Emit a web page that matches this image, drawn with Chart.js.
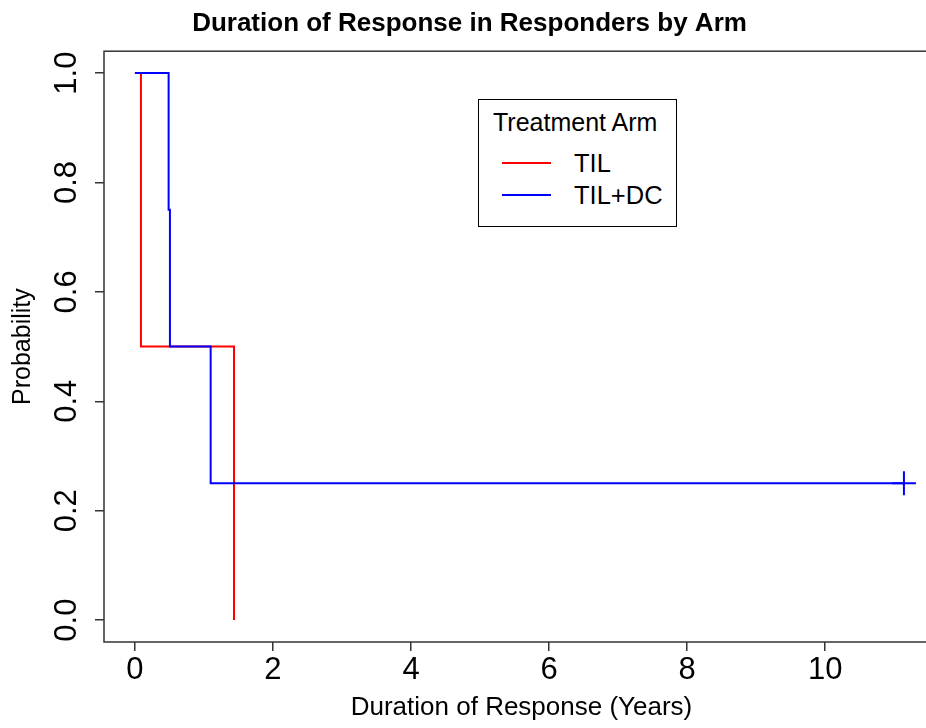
<!DOCTYPE html>
<html>
<head>
<meta charset="utf-8">
<script src="https://cdn.jsdelivr.net/npm/chart.js@4.4.1/dist/chart.umd.min.js"></script>
<style>
  html, body { margin: 0; padding: 0; overflow: hidden; background: #fff; }
  #wrap { position: relative; width: 1044px; height: 728px; }
  #legend {
    position: absolute; left: 478px; top: 99px; width: 197px; height: 126px;
    border: 1px solid #000; background: #fff;
    font-family: 'Liberation Sans', Arial, sans-serif; color: #000;
  }
  #legend .ttl { position: absolute; left: 14px; top: 7px; font-size: 25px; line-height: 30px; white-space: nowrap; }
  #legend .swatch { position: absolute; left: 23px; width: 49px; height: 2px; }
  #legend .lbl { position: absolute; left: 95px; font-size: 25.5px; line-height: 30px; white-space: nowrap; }
</style>
</head>
<body>
<div id="wrap">
  <canvas id="myChart"></canvas>
  <div id="legend"></div>
</div>
<script>
// Kaplan-Meier steps (years, probability)
const tilTimes = [0, 0.087, 1.435];
const tilSurv = [1, 0.5, 0];
const dcTimes = [0, 0.488, 0.507, 1.097, 11.14];
const dcSurv = [1, 0.75, 0.5, 0.25, 0.25];
const censorTimes = [11.14];
const censorSurv = [0.25];
const armLabels = ['TIL', 'TIL+DC'];
const armColors = ['#ff0000', '#0000ff'];
const xTickValues = [0, 2, 4, 6, 8, 10];
const yTickValues = [0, 0.2, 0.4, 0.6, 0.8, 1.0];

function toPoints(xs, ys) {
    return xs.map((x, i) => ({x: x, y: ys[i]}));
}

Chart.defaults.font.family = "'Liberation Sans', Arial, sans-serif";
Chart.defaults.color = '#000';

const boxPlugin = {
    id: 'box',
    beforeDatasetsDraw(chart) {
        const a = chart.chartArea;
        const ctx = chart.ctx;
        ctx.save();
        ctx.strokeStyle = '#333';
        ctx.lineWidth = 1.5;
        ctx.strokeRect(a.left, a.top, a.right - a.left, a.bottom - a.top);
        ctx.restore();
    }
};

const data = {
    datasets: [{
        label: armLabels[0],
        data: toPoints(tilTimes, tilSurv),
        borderColor: armColors[0],
        borderWidth: 2,
        pointRadius: 0,
        stepped: 'before',
        order: 2
    },
    {
        label: armLabels[1],
        data: toPoints(dcTimes, dcSurv),
        borderColor: armColors[1],
        borderWidth: 2,
        pointRadius: 0,
        stepped: 'before',
        order: 1
    },
    {
        label: 'censored',
        data: toPoints(censorTimes, censorSurv),
        showLine: false,
        borderColor: armColors[1],
        borderWidth: 2,
        pointStyle: 'cross',
        pointRadius: 12,
        order: 0
    }]
};

const config = {
    type: 'line',
    data: data,
    plugins: [boxPlugin],
    options: {
        responsive: true,
        maintainAspectRatio: false,
        animation: false,
        layout: { padding: { left: 0, right: 105, top: 0, bottom: 0 } },
        scales: {
            x: {
                type: 'linear',
                bounds: 'data',
                min: -0.448,
                max: 11.648,
                grid: { drawOnChartArea: false, tickLength: 9, color: '#333', lineWidth: 1.5 },
                border: { display: false },
                ticks: { padding: 1, font: { size: 31 }, maxRotation: 0 },
                afterBuildTicks: (scale) => { scale.ticks = xTickValues.map(v => ({value: v})); },
                title: { display: true, text: 'Duration of Response (Years)', font: { size: 26 }, padding: { top: 0, bottom: 5 } },
                afterFit: (scale) => { scale.height = 86; }
            },
            y: {
                type: 'linear',
                bounds: 'data',
                min: -0.04,
                max: 1.04,
                grid: { drawOnChartArea: false, tickLength: 9, color: '#333', lineWidth: 1.5 },
                border: { display: false },
                ticks: {
                    padding: 6, font: { size: 31 },
                    minRotation: 90, maxRotation: 90, crossAlign: 'center',
                    callback: (v) => Number(v).toFixed(1)
                },
                afterBuildTicks: (scale) => { scale.ticks = yTickValues.map(v => ({value: v})); },
                title: { display: true, text: 'Probability', font: { size: 25 }, padding: { top: 8, bottom: 0 } },
                afterFit: (scale) => { scale.width = 104; }
            }
        },
        plugins: {
            legend: { display: false },
            tooltip: { enabled: false },
            title: {
                display: true,
                text: 'Duration of Response in Responders by Arm',
                font: { size: 26, weight: 'bold' },
                padding: { top: 8, bottom: 12 }
            }
        }
    }
};

const myChart = new Chart(document.getElementById('myChart'), config);

// legend box, built from the arm datasets
const legend = document.getElementById('legend');
let html = '<div class="ttl">Treatment Arm</div>';
armLabels.forEach((lab, i) => {
    const cy = 63 + i * 32;
    html += '<div class="swatch" style="top:' + (cy - 1) + 'px;background:' + armColors[i] + '"></div>';
    html += '<div class="lbl" style="top:' + (cy - 15) + 'px">' + lab + '</div>';
});
legend.innerHTML = html;
</script>
</body>
</html>
